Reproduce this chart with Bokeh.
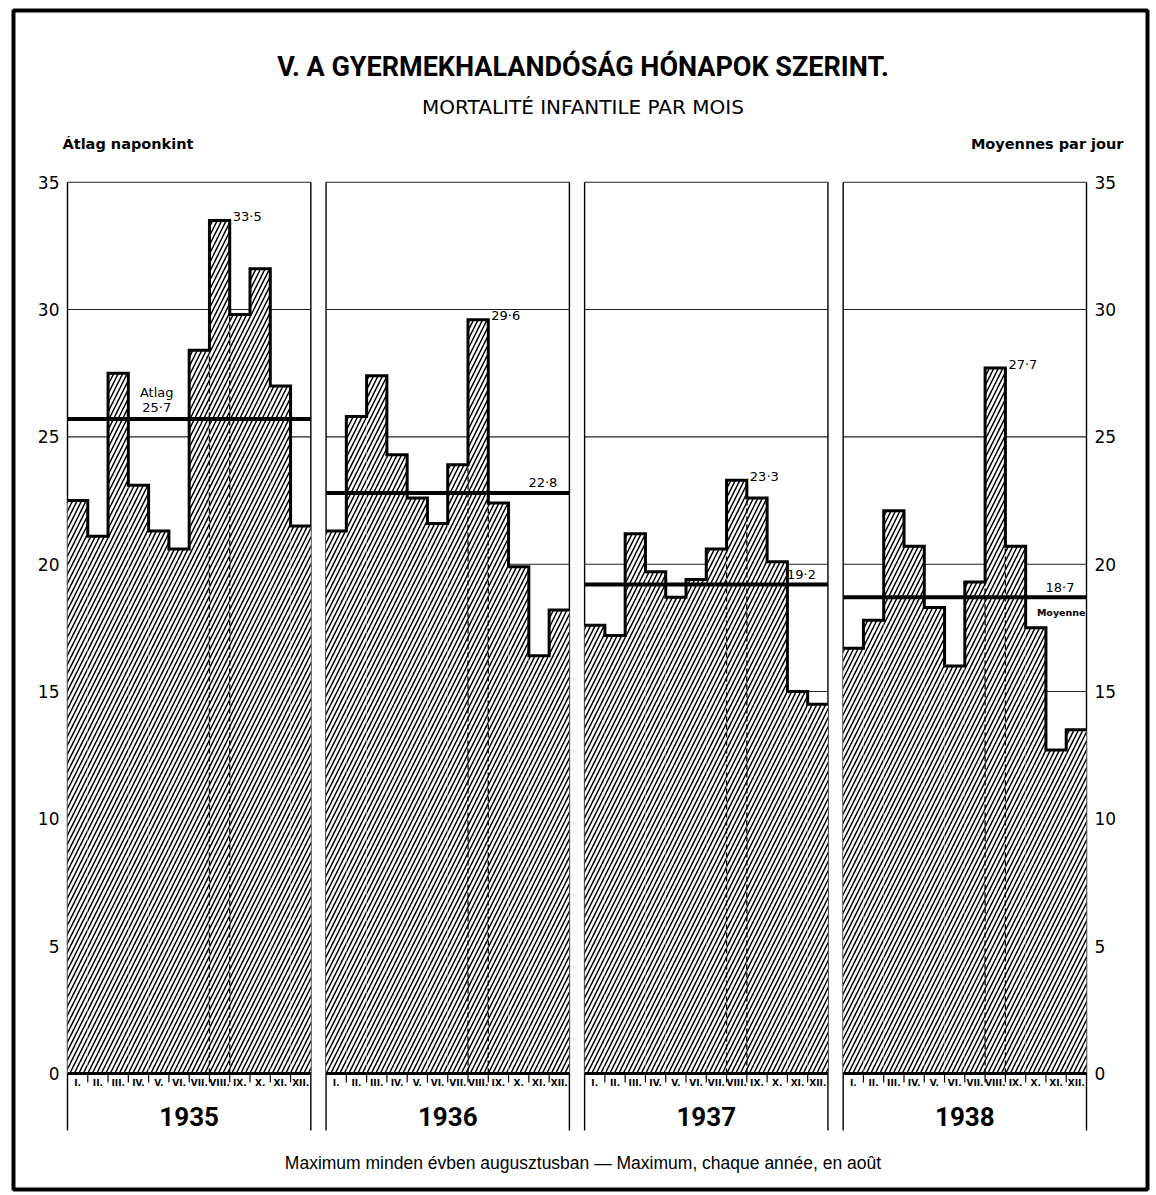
import numpy as np
from bokeh.plotting import figure
from bokeh.models import Range1d
from bokeh.core.properties import value
from bokeh.embed import file_html
from bokeh.resources import INLINE

# ---------------- data ----------------
years = ["1935", "1936", "1937", "1938"]
months = ["I.", "II.", "III.", "IV.", "V.", "VI.", "VII.", "VIII.", "IX.", "X.", "XI.", "XII."]
v1935 = [22.5, 21.1, 27.5, 23.1, 21.3, 20.6, 28.4, 33.5, 29.8, 31.6, 27.0, 21.5]
v1936 = [21.3, 25.8, 27.4, 24.3, 22.6, 21.6, 23.9, 29.6, 22.4, 19.9, 16.4, 18.2]
v1937 = [17.6, 17.2, 21.2, 19.7, 18.7, 19.4, 20.6, 23.3, 22.6, 20.1, 15.0, 14.5]
v1938 = [16.7, 17.8, 22.1, 20.7, 18.3, 16.0, 19.3, 27.7, 20.7, 17.5, 12.7, 13.5]
means = [25.7, 22.8, 19.2, 18.7]
y_ticks = [0, 5, 10, 15, 20, 25, 30, 35]

title_text = "V. A GYERMEKHALANDÓSÁG HÓNAPOK SZERINT."
subtitle_text = "MORTALITÉ INFANTILE PAR MOIS"
left_unit = "Átlag naponkint"
right_unit = "Moyennes par jour"
mean_word_hu = "Atlag"
mean_word_fr = "Moyenne"
caption = "Maximum minden évben augusztusban — Maximum, chaque année, en août"

series = [v1935, v1936, v1937, v1938]

# ---------------- layout (page pixels) ----------------
W, H = 1156, 1195
FRAME_L, FRAME_R, FRAME_T, FRAME_B = 13, 1147, 10, 1189   # outer border
PANEL_L, PANEL_R = 67, 1086                                # first / last panel edges
ZERO_PX, TOP_PX = 1073, 181.7                              # page y of 0 and 35
GAP = 0.75                      # gap between panels, in month units
NM = 12
TOTAL = 4 * NM + 3 * GAP
PXX = (PANEL_R - PANEL_L) / TOTAL
PXY = (ZERO_PX - TOP_PX) / 35.0

def dx(px):
    return px / PXX

def dy(px):
    return px / PXY

def ypx(page_y):
    return (ZERO_PX - page_y) / PXY

x_lo = -dx(PANEL_L - FRAME_L)
x_hi = TOTAL + dx(FRAME_R - PANEL_R)
y_lo = ypx(FRAME_B)
y_hi = ypx(FRAME_T)

FH = "Roboto"          # headings (narrower bold)
FD = "DejaVu Sans"
FR = "Liberation Sans"

p = figure(width=W, height=H, x_range=Range1d(x_lo, x_hi), y_range=Range1d(y_lo, y_hi),
           x_axis_type=None, y_axis_type=None, toolbar_location=None,
           output_backend="svg", min_border_left=FRAME_L, min_border_right=W - FRAME_R,
           min_border_top=FRAME_T, min_border_bottom=H - FRAME_B)
p.grid.visible = False
p.outline_line_color = "black"
p.outline_line_width = 4
p.background_fill_color = "white"
p.border_fill_color = "white"

offs = [i * (NM + GAP) for i in range(4)]

# gridlines (per panel)
gx0, gx1, gy = [], [], []
for o in offs:
    for t in y_ticks[1:]:
        gx0.append(o); gx1.append(o + NM); gy.append(t)
p.segment(x0=gx0, x1=gx1, y0=gy, y1=gy, line_color="#222222", line_width=1.1)

# panel side lines
bottom_line = ypx(1130)
sx = []
for o in offs:
    sx += [o, o + NM]
p.segment(x0=sx, x1=sx, y0=[bottom_line] * len(sx), y1=[35] * len(sx),
          line_color="black", line_width=1.4)

# bars
for o, vals in zip(offs, series):
    left = [o + m for m in range(NM)]
    right = [o + m + 1 for m in range(NM)]
    p.quad(left=left, right=right, bottom=0, top=vals, fill_color="white",
           line_color=None, hatch_pattern="/", hatch_color="black",
           hatch_scale=9, hatch_weight=1.5)

# dashed lines at the August bar borders
aug = months.index("VIII.")
dx0, dy1 = [], []
for o, vals in zip(offs, series):
    dx0 += [o + aug, o + aug + 1]
    dy1 += [min(vals[aug - 1], vals[aug]), min(vals[aug], vals[aug + 1])]
p.segment(x0=dx0, x1=dx0, y0=[0] * len(dx0), y1=dy1, line_color="black",
          line_width=1.3, line_dash="5 3")

# step outlines
xs_all, ys_all = [], []
for o, vals in zip(offs, series):
    xs, ys = [], []
    for m, v in enumerate(vals):
        xs += [o + m, o + m + 1]
        ys += [v, v]
    xs_all.append(xs); ys_all.append(ys)
p.multi_line(xs_all, ys_all, line_color="black", line_width=3, line_join="miter")

# base lines
p.segment(x0=offs, x1=[o + NM for o in offs], y0=0, y1=0, line_color="black", line_width=3)

# mean lines
p.segment(x0=offs, x1=[o + NM for o in offs], y0=means, y1=means,
          line_color="black", line_width=4)

# month ticks
tx = []
for o in offs:
    tx += [o + m for m in range(1, NM)]
p.segment(x0=tx, x1=tx, y0=0, y1=-dy(9), line_color="black", line_width=1.2)

def fmt(v):
    return f"{v:.1f}".replace(".", "·")

# month labels
mx, ml = [], []
for o in offs:
    for m, lab in enumerate(months):
        mx.append(o + m + 0.5); ml.append(lab)
p.text(x=mx, y=ypx(1082), text=ml, text_align="center", text_baseline="middle",
       text_font=value(FD), text_font_size="9px", text_font_style="bold")

# year labels
p.text(x=[o + NM / 2 for o in offs], y=ypx(1116), text=years, text_align="center",
       text_baseline="middle", text_font=value(FH), text_font_size="26px",
       text_font_style="bold")

# y tick labels both sides
p.text(x=-dx(8), y=y_ticks, text=[str(t) for t in y_ticks], text_align="right",
       text_baseline="middle", text_font=value(FD), text_font_size="17px")
p.text(x=TOTAL + dx(8), y=y_ticks, text=[str(t) for t in y_ticks], text_align="left",
       text_baseline="middle", text_font=value(FD), text_font_size="17px")

# maximum labels (August)
mxx = [o + aug + 1 + dx(3) for o in offs]
mxy = [vals[aug] + dy(4) for vals in series]
p.text(x=mxx, y=mxy, text=[fmt(vals[aug]) for vals in series], text_align="left",
       text_baseline="middle", text_font=value(FD), text_font_size="13px")

# mean labels
p.text(x=[offs[0] + 4.4], y=[means[0] + dy(12)], text=[fmt(means[0])], text_align="center",
       text_baseline="middle", text_font=value(FD), text_font_size="13px")
p.text(x=[offs[0] + 4.4], y=[means[0] + dy(27)], text=[mean_word_hu], text_align="center",
       text_baseline="middle", text_font=value(FD), text_font_size="13px")
p.text(x=[offs[i] + NM - dx(12) for i in range(1, 4)], y=[means[i] + dy(10) for i in range(1, 4)],
       text=[fmt(means[i]) for i in range(1, 4)], text_align="right",
       text_baseline="middle", text_font=value(FD), text_font_size="13px")
p.text(x=[offs[3] + NM - dx(1)], y=[means[3] - dy(15)], text=[mean_word_fr], text_align="right",
       text_baseline="middle", text_font=value(FD), text_font_size="9.5px", text_font_style="bold")

# titles and unit labels
mid = TOTAL / 2 + dx(6)
p.text(x=[mid], y=[ypx(66)], text=[title_text], text_align="center", text_baseline="middle",
       text_font=value(FH), text_font_size="27px", text_font_style="bold")
p.text(x=[mid], y=[ypx(106)], text=[subtitle_text], text_align="center", text_baseline="middle",
       text_font=value(FD), text_font_size="20px")
p.text(x=[-dx(5)], y=[ypx(143)], text=[left_unit], text_align="left", text_baseline="middle",
       text_font=value(FD), text_font_size="14.5px", text_font_style="bold")
p.text(x=[TOTAL + dx(37)], y=[ypx(143)], text=[right_unit], text_align="right",
       text_baseline="middle", text_font=value(FD), text_font_size="14.5px", text_font_style="bold")
p.text(x=[mid], y=[ypx(1162)], text=[caption], text_align="center", text_baseline="middle",
       text_font=value(FR), text_font_size="17.5px")

open("out.html", "w").write(file_html(p, INLINE))
